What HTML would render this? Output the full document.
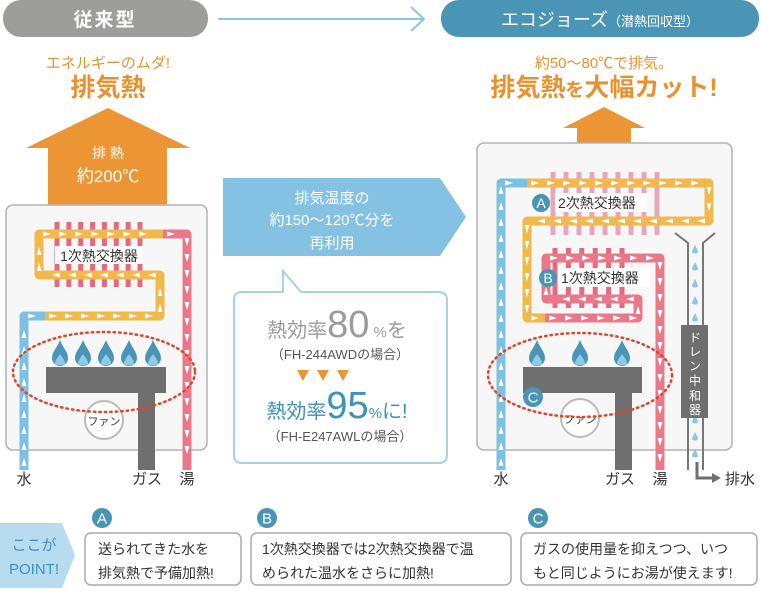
<!DOCTYPE html>
<html><head><meta charset="utf-8"><style>
html,body{margin:0;padding:0;background:#fff}
svg text{font-family:"Liberation Sans","Noto Sans CJK JP",sans-serif}
</style></head><body>
<svg id="s" width="761" height="588" viewBox="0 0 761 588" xmlns="http://www.w3.org/2000/svg">
<rect x="3" y="0" width="205" height="37" rx="18" fill="#9d9d9c"/>
<text x="105" y="26" font-size="19" font-weight="bold" fill="#fff" text-anchor="middle" letter-spacing="2">従来型</text>
<line x1="218" y1="19" x2="424" y2="19" stroke="#8cc6e6" stroke-width="2"/>
<polyline points="411,7 424,19 411,31" fill="none" stroke="#8cc6e6" stroke-width="2"/>
<rect x="441" y="0" width="318" height="37" rx="18" fill="#4a94b5"/>
<text x="600" y="26" font-size="18" fill="#fff" text-anchor="middle">エコジョーズ<tspan font-size="13">（潜熱回収型）</tspan></text>

<text x="108" y="68" font-size="15" fill="#e8922f" text-anchor="middle">エネルギーのムダ!</text>
<text x="108" y="96" font-size="25" font-weight="bold" fill="#e8922f" text-anchor="middle">排気熱</text>
<text x="604" y="68" font-size="15" fill="#e8922f" text-anchor="middle">約50～80℃で排気。</text>
<text x="604" y="96" font-size="25" font-weight="bold" fill="#e8922f" text-anchor="middle">排気熱<tspan font-size="19">を</tspan>大幅カット!</text>

<polygon points="108,108 190,148 167,148 167,205 48,205 48,148 26,148" fill="#ec9535"/>
<text x="108" y="158" font-size="14" fill="#fff" text-anchor="middle">排 熱</text>
<text x="108" y="182" font-size="17" fill="#fff" text-anchor="middle">約200℃</text>
<polygon points="604,107 645,128 631,128 631,143 577,143 577,128 563,128" fill="#ec9535"/>

<rect x="6" y="205" width="201" height="245" rx="7" fill="#f7f7f7" stroke="#b3b3b3" stroke-width="1.5"/>
<rect x="477" y="143" width="255" height="307" rx="7" fill="#f7f7f7" stroke="#b3b3b3" stroke-width="1.5"/>
<g id="pipes"></g>

<g id="fl"></g>
<rect x="46" y="367" width="120" height="26" fill="#6f6f6f"/>
<rect x="138" y="367" width="17" height="103" fill="#6f6f6f"/>
<circle cx="104" cy="420" r="19" fill="#fff" stroke="#bbb" stroke-width="2"/>
<text x="104" y="425" font-size="11" fill="#333" text-anchor="middle">ファン</text>
<ellipse cx="104" cy="372" rx="91" ry="40" fill="none" stroke="#e0452b" stroke-width="2.5" stroke-dasharray="1.5 4" stroke-linecap="round"/>
<text x="24" y="484" font-size="15" fill="#333" text-anchor="middle">水</text>
<text x="147" y="484" font-size="15" fill="#333" text-anchor="middle">ガス</text>
<text x="187" y="484" font-size="15" fill="#333" text-anchor="middle">湯</text>

<rect x="523" y="367" width="119" height="26" fill="#6f6f6f"/>
<rect x="615" y="367" width="17" height="103" fill="#6f6f6f"/>
<circle cx="580" cy="418" r="19" fill="#fff" stroke="#bbb" stroke-width="2"/>
<text x="580" y="423" font-size="11" fill="#333" text-anchor="middle">ファン</text>
<ellipse cx="580" cy="375" rx="92" ry="42" fill="none" stroke="#e0452b" stroke-width="2.5" stroke-dasharray="1.5 4" stroke-linecap="round"/>
<polyline points="675,233 688,243 688,470" fill="none" stroke="#777" stroke-width="2"/>
<polyline points="715,233 703,243 703,470" fill="none" stroke="#777" stroke-width="2"/>
<g id="drops"></g>
<rect x="681" y="325" width="27" height="93" fill="#6f6f6f"/>
<text font-size="12" fill="#fff" text-anchor="middle"><tspan x="695" y="342">ド</tspan><tspan x="695" y="356">レ</tspan><tspan x="695" y="370">ン</tspan><tspan x="695" y="385">中</tspan><tspan x="695" y="400">和</tspan><tspan x="695" y="414">器</tspan></text>
<polyline points="697,462 697,478 712,478" fill="none" stroke="#6f6f6f" stroke-width="3"/>
<polygon points="712,473 721,478 712,483" fill="#6f6f6f"/>
<text x="740" y="484" font-size="15" fill="#333" text-anchor="middle">排水</text>
<text x="501" y="484" font-size="15" fill="#333" text-anchor="middle">水</text>
<text x="620" y="484" font-size="15" fill="#333" text-anchor="middle">ガス</text>
<text x="660" y="484" font-size="15" fill="#333" text-anchor="middle">湯</text>

<polygon points="223,178 440,178 466,217 440,256 223,256" fill="#85c1e3"/>
<text x="332" y="203" font-size="15" fill="#fff" text-anchor="middle">排気温度の</text>
<text x="332" y="225" font-size="15" fill="#fff" text-anchor="middle">約150～120℃分を</text>
<text x="332" y="248" font-size="15" fill="#fff" text-anchor="middle">再利用</text>
<path d="M242,292 L283,292 L283,271 L301,292 L439,292 Q447,292 447,300 L447,455 Q447,463 439,463 L242,463 Q234,463 234,455 L234,300 Q234,292 242,292 Z" fill="#fff" stroke="#a6d3ec" stroke-width="2"/>
<text x="337" y="337" font-size="20" fill="#9b9b9b" text-anchor="middle">熱効率<tspan font-size="38">80</tspan><tspan font-size="15"> %</tspan>を</text>
<text x="340" y="359" font-size="13" fill="#555" text-anchor="middle">（FH-244AWDの場合）</text>
<polygon points="297,370 309,370 303,381" fill="#ec9535"/>
<polygon points="317,370 329,370 323,381" fill="#ec9535"/>
<polygon points="337,370 349,370 343,381" fill="#ec9535"/>
<text x="337" y="418" font-size="20" fill="#3f91b8" text-anchor="middle">熱効率<tspan font-size="38">95</tspan><tspan font-size="15">%</tspan>に!</text>
<text x="340" y="441" font-size="13" fill="#555" text-anchor="middle">（FH-E247AWLの場合）</text>

<polygon points="0,523 62,523 75,555 62,588 0,588" fill="#b8dcef"/>
<text x="34" y="550" font-size="15" fill="#3f8fbf" text-anchor="middle">ここが</text>
<text x="34" y="574" font-size="15" fill="#3f8fbf" text-anchor="middle">POINT!</text>
<rect x="85" y="533" width="156" height="52" rx="6" fill="#fff" stroke="#aaa" stroke-width="1.5"/>
<rect x="251" y="533" width="260" height="52" rx="6" fill="#fff" stroke="#aaa" stroke-width="1.5"/>
<rect x="521" y="533" width="236" height="52" rx="6" fill="#fff" stroke="#aaa" stroke-width="1.5"/>
<g font-size="14" fill="#333">
<text x="98" y="554">送られてきた水を</text>
<text x="98" y="578">排気熱で予備加熱!</text>
<text x="262" y="554">1次熱交換器では2次熱交換器で温</text>
<text x="262" y="578">められた温水をさらに加熱!</text>
<text x="533" y="554">ガスの使用量を抑えつつ、いつ</text>
<text x="533" y="578">もと同じようにお湯が使えます!</text>
</g>
<g id="circ"></g>
</svg>
<script>
var NS="http://www.w3.org/2000/svg";
function el(p,t,a){var e=document.createElementNS(NS,t);for(var k in a)e.setAttribute(k,a[k]);p.appendChild(e);return e;}
var P=document.getElementById("pipes");
function stripes(x0,x1,n,y0,y1,c){var st=(x1-x0)/(n-1);for(var i=0;i<n;i++)el(P,"rect",{x:x0+i*st-2.5,y:y0,width:5,height:y1-y0,fill:c});}
stripes(57,140,8,222,287,"#e46a80");
stripes(553,657,9,172,235,"#e9a5bd");
stripes(555,622,6,248,308,"#e46a80");
function pipe(pts,c){
 el(P,"polyline",{points:pts.map(function(p){return p.join(",")}).join(" "),fill:"none",stroke:c,"stroke-width":9,"stroke-linejoin":"round"});
 for(var i=0;i<pts.length-1;i++){var a=pts[i],b=pts[i+1];var dx=b[0]-a[0],dy=b[1]-a[1];var L=Math.hypot(dx,dy);var ux=dx/L,uy=dy/L;
  for(var d=8;d<L-4;d+=16){var cx=a[0]+ux*d,cy=a[1]+uy*d;
   var tip=[cx+ux*4,cy+uy*4],b1=[cx-ux*4-uy*2.5,cy-uy*4+ux*2.5],b2=[cx-ux*4+uy*2.5,cy-uy*4-ux*2.5];
   el(P,"polygon",{points:[tip,b1,b2].map(function(p){return p.join(",")}).join(" "),fill:"#fff"});}}
}
pipe([[24,470],[24,316],[45,316]],"#7cc0e4");
pipe([[45,316],[160,316],[160,275],[39,275],[39,234],[163,234]],"#f2b84b");
pipe([[163,234],[187,234],[187,470]],"#e8788a");
el(P,"rect",{x:55,y:246,width:88,height:18,fill:"#fff"});
el(P,"text",{x:99,y:261,"font-size":14,fill:"#333","text-anchor":"middle"}).textContent="1次熱交換器";
pipe([[501,470],[501,183],[527,183]],"#7cc0e4");
pipe([[527,183],[709,183],[709,221],[527,221],[527,318],[545,318]],"#f2b84b");
pipe([[545,318],[638,318],[638,299],[546,299],[546,258],[660,258],[660,470]],"#e8788a");
el(P,"rect",{x:555,y:193,width:92,height:19,fill:"#fff"});
el(P,"text",{x:558,y:208,"font-size":14,fill:"#333"}).textContent="2次熱交換器";
el(P,"rect",{x:558,y:268,width:92,height:19,fill:"#fff"});
el(P,"text",{x:561,y:283,"font-size":14,fill:"#333"}).textContent="1次熱交換器";
function circ(g,x,y,r,l,fs){el(g,"circle",{cx:x,cy:y,r:r,fill:"#4a94b5"});el(g,"text",{x:x,y:y+fs*0.36,"font-size":fs,fill:"#fff","text-anchor":"middle"}).textContent=l;}
circ(P,541,203,9,"A",14);circ(P,548,278,9,"B",14);
var C=document.getElementById("circ");
circ(C,533,397,10,"C",15);
circ(C,102,518,10,"A",15);circ(C,267,518,10,"B",15);circ(C,538,518,10,"C",15);
var F=document.getElementById("fl");
function flame(x){el(F,"path",{d:"M"+x+",340 C"+(x+3)+",348 "+(x+8)+",352 "+(x+8)+",358 C"+(x+8)+",363 "+(x+4)+",366 "+x+",366 C"+(x-4)+",366 "+(x-8)+",363 "+(x-8)+",358 C"+(x-8)+",352 "+(x-3)+",348 "+x+",340Z",fill:"#4a94b5"});
 el(F,"path",{d:"M"+x+",354 C"+(x+3)+",358 "+(x+5)+",361 "+(x+5)+",363 C"+(x+5)+",366 "+(x-5)+",366 "+(x-5)+",363 C"+(x-5)+",361 "+(x-3)+",358 "+x+",354Z",fill:"#8fcbe8"});}
[60,83,106,129,153,537,580,622].forEach(flame);
var D=document.getElementById("drops");
for(var y=245;y<462;y+=17){el(D,"path",{d:"M695,"+y+" C697,"+(y+4)+" 698,"+(y+6)+" 698,"+(y+7)+" C698,"+(y+9)+" 692,"+(y+9)+" 692,"+(y+7)+" C692,"+(y+6)+" 693,"+(y+4)+" 695,"+y+"Z",fill:"#8cc6e6"});}
</script>
</body></html>
